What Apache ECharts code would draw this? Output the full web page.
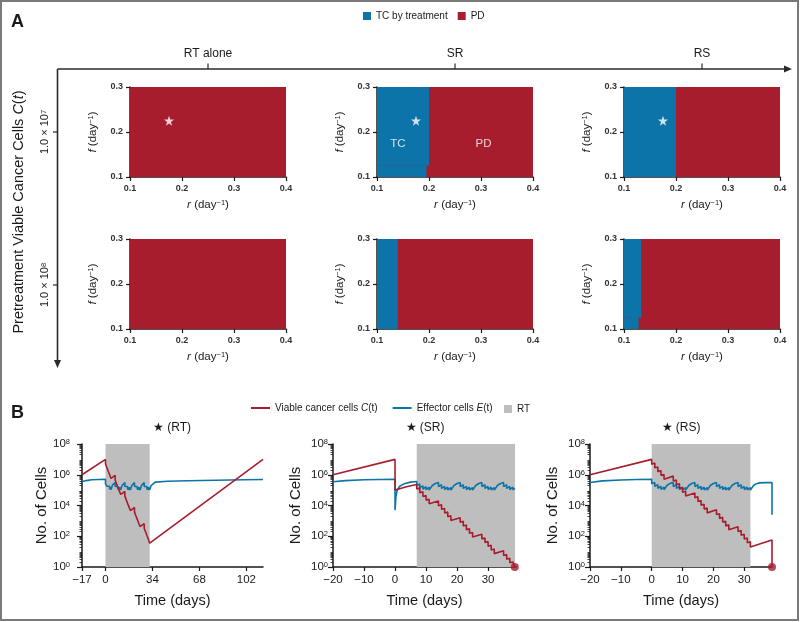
<!DOCTYPE html>
<html><head><meta charset="utf-8">
<script src="https://cdn.jsdelivr.net/npm/echarts@6/dist/echarts.min.js"></script>
<style>html,body{margin:0;padding:0;background:#fff}#c{width:800px;height:622px}</style>
</head><body><div id="c"></div>
<script>
// ---------------- DATA ----------------
// Panel A: phase diagrams (r on x, f on y)
const colTitles = ['RT alone', 'SR', 'RS'];
const rowExponents = ['7', '8'];             // pretreatment cells 1.0 × 10^n
const rTickValues = [0.1, 0.2, 0.3, 0.4];
const fTickValues = [0.1, 0.2, 0.3];
// regions: [rStart, rEnd, fStart, fEnd]
const pdRegion = [[0.1, 0.4, 0.1, 0.3]];
const tcRT_1e7 = [];
const tcSR_1e7 = [[0.1, 0.2, 0.125, 0.3], [0.1, 0.195, 0.1, 0.125]];
const tcRS_1e7 = [[0.1, 0.2, 0.1, 0.3]];
const tcRT_1e8 = [];
const tcSR_1e8 = [[0.1, 0.14, 0.1, 0.3]];
const tcRS_1e8 = [[0.1, 0.133, 0.125, 0.3], [0.1, 0.128, 0.1, 0.125]];
const starPoint = [[0.175, 0.225]];
const regionLabels = [[0.14, 0.173, 'TC'], [0.305, 0.173, 'PD']];

// Panel B: time courses, values are log10(number of cells)
const subTitles = ['★ (RT)', '★ (SR)', '★ (RS)'];
const yExpTicks = [0, 2, 4, 6, 8];
const xTicksRT = [-17, 0, 34, 68, 102];
const xTicksSR = [-20, -10, 0, 10, 20, 30];
const xTicksRS = [-20, -10, 0, 10, 20, 30];
const rtWindowRT = [[0, 32]];
const rtWindowSR = [[7, 38.7]];
const rtWindowRS = [[0, 32]];

const cancerRT = [[-17,6.0],[0,7.0],[0,6.7],[1,6.77],[1,6.47],[2,6.53],[2,6.23],[3,6.3],[3,6.0],[4,6.06],[4,5.76],[7,5.96],[7,5.66],[8,5.72],[8,5.42],[9,5.49],[9,5.19],[10,5.25],[10,4.95],[11,5.02],[11,4.72],[14,4.91],[14,4.61],[15,4.68],[15,4.38],[16,4.44],[16,4.14],[17,4.21],[17,3.91],[18,3.97],[18,3.67],[21,3.87],[21,3.57],[22,3.63],[22,3.33],[23,3.4],[23,3.1],[24,3.16],[24,2.86],[25,2.93],[25,2.63],[28,2.82],[28,2.52],[29,2.59],[29,2.29],[30,2.35],[30,2.05],[31,2.12],[31,1.82],[32,1.88],[32,1.55],[114,7.0]];
const effectorRT = [[-17,5.54],[-14,5.62],[-10,5.67],[-5,5.69],[0,5.7],[0,5.42],[1,5.5],[1,5.25],[2,5.36],[2,5.12],[3,5.25],[3,5.05],[4,5.2],[4,5.02],[5,5.32],[6,5.44],[7,5.49],[7,5.24],[8,5.35],[8,5.11],[9,5.24],[9,5.04],[10,5.19],[10,5.01],[11,5.17],[11,5.0],[12,5.3],[13,5.43],[14,5.49],[14,5.24],[15,5.35],[15,5.11],[16,5.24],[16,5.04],[17,5.19],[17,5.01],[18,5.17],[18,5.0],[19,5.3],[20,5.43],[21,5.49],[21,5.24],[22,5.35],[22,5.11],[23,5.24],[23,5.04],[24,5.19],[24,5.01],[25,5.17],[25,5.0],[26,5.3],[27,5.43],[28,5.49],[28,5.24],[29,5.35],[29,5.11],[30,5.24],[30,5.04],[31,5.19],[31,5.01],[32,5.17],[32,5.0],[33,5.3],[34,5.42],[36,5.52],[45,5.58],[60,5.61],[80,5.64],[100,5.67],[114,5.69]];

const cancerSR = [[-20,6.0],[0,7.0],[0,5.0],[2,5.12],[4,5.23],[7,5.37],[7,5.07],[8,5.13],[8,4.83],[9,4.89],[9,4.59],[10,4.65],[10,4.35],[11,4.41],[11,4.11],[14,4.29],[14,3.99],[15,4.05],[15,3.75],[16,3.81],[16,3.51],[17,3.57],[17,3.27],[18,3.33],[18,3.03],[21,3.21],[21,2.91],[22,2.97],[22,2.67],[23,2.73],[23,2.43],[24,2.49],[24,2.19],[25,2.25],[25,1.95],[28,2.13],[28,1.83],[29,1.89],[29,1.59],[30,1.65],[30,1.35],[31,1.41],[31,1.11],[32,1.17],[32,0.87],[35,1.05],[35,0.75],[36,0.81],[36,0.51],[37,0.57],[37,0.27],[38,0.33],[38.6,0.0]];
const effectorSR = [[-20,5.54],[-16,5.62],[-10,5.67],[-5,5.69],[0,5.7],[0,3.7],[0.3,4.6],[0.7,5.0],[1.5,5.25],[3,5.42],[5,5.52],[7,5.56],[7,5.3],[8,5.4],[8,5.16],[9,5.28],[9,5.06],[10,5.22],[10,5.03],[11,5.19],[11,5.0],[12,5.3],[13,5.43],[14,5.49],[14,5.24],[15,5.35],[15,5.11],[16,5.24],[16,5.04],[17,5.19],[17,5.01],[18,5.17],[18,5.0],[19,5.3],[20,5.43],[21,5.49],[21,5.24],[22,5.35],[22,5.11],[23,5.24],[23,5.04],[24,5.19],[24,5.01],[25,5.17],[25,5.0],[26,5.3],[27,5.43],[28,5.49],[28,5.24],[29,5.35],[29,5.11],[30,5.24],[30,5.04],[31,5.19],[31,5.01],[32,5.17],[32,5.0],[33,5.3],[34,5.43],[35,5.49],[35,5.24],[36,5.35],[36,5.11],[37,5.24],[37,5.04],[38,5.19],[38,5.01],[38.6,5.12]];
const endDotSR = [[38.6, 0]];

const cancerRS = [[-20,6.0],[0,7.0],[0,6.69],[1,6.76],[1,6.45],[2,6.51],[2,6.2],[3,6.27],[3,5.96],[4,6.02],[4,5.71],[7,5.91],[7,5.6],[8,5.66],[8,5.35],[9,5.42],[9,5.11],[10,5.17],[10,4.86],[11,4.93],[11,4.62],[14,4.81],[14,4.5],[15,4.57],[15,4.26],[16,4.32],[16,4.01],[17,4.08],[17,3.77],[18,3.83],[18,3.52],[21,3.72],[21,3.41],[22,3.47],[22,3.16],[23,3.23],[23,2.92],[24,2.98],[24,2.67],[25,2.74],[25,2.43],[28,2.62],[28,2.31],[29,2.38],[29,2.07],[30,2.13],[30,1.82],[31,1.89],[31,1.58],[32,1.64],[32,1.3],[39,1.75],[39,0.0]];
const effectorRS = [[-20,5.5],[-16,5.6],[-10,5.66],[-5,5.69],[0,5.7],[0,5.42],[1,5.5],[1,5.25],[2,5.36],[2,5.12],[3,5.25],[3,5.05],[4,5.2],[4,5.02],[5,5.32],[6,5.44],[7,5.49],[7,5.24],[8,5.35],[8,5.11],[9,5.24],[9,5.04],[10,5.19],[10,5.01],[11,5.17],[11,5.0],[12,5.3],[13,5.43],[14,5.49],[14,5.24],[15,5.35],[15,5.11],[16,5.24],[16,5.04],[17,5.19],[17,5.01],[18,5.17],[18,5.0],[19,5.3],[20,5.43],[21,5.49],[21,5.24],[22,5.35],[22,5.11],[23,5.24],[23,5.04],[24,5.19],[24,5.01],[25,5.17],[25,5.0],[26,5.3],[27,5.43],[28,5.49],[28,5.24],[29,5.35],[29,5.11],[30,5.24],[30,5.04],[31,5.19],[31,5.01],[32,5.17],[32,5.0],[33,5.3],[34,5.42],[35,5.47],[37,5.49],[39,5.5],[39,3.4]];
const endDotRS = [[39, 0]];

// ---------------- STYLE / LAYOUT ----------------
const FONT = "'Liberation Sans', Arial, Helvetica, sans-serif";
const RED = '#a71d2e', BLUE = '#0d74aa', GRAY = '#bebebe', INK = '#1a1a1a';
const NAME_C = 'Viable cancer cells C(t)', NAME_E = 'Effector cells E(t)', NAME_RT = 'RT';
const NAME_TC = 'TC by treatment', NAME_PD = 'PD';

const chart = echarts.init(document.getElementById('c'));

const gridsA = [];
const colLeft = [130, 377, 624], rowTop = [87, 239];
rowTop.forEach(t => colLeft.forEach(l => gridsA.push({left: l, top: t, width: 156, height: 90})));
const gridsB = [
  {left: 82, top: 444, width: 181, height: 123},
  {left: 333, top: 444, width: 183, height: 123},
  {left: 590, top: 444, width: 182, height: 123}
];
const grids = gridsA.concat(gridsB);

const supRich = {
  i: {fontStyle: 'italic', fontSize: 11.5, fontFamily: FONT, color: INK},
  s: {fontSize: 7.5, fontFamily: FONT, color: INK, verticalAlign: 'top', lineHeight: 8}
};

const xAxes = [], yAxes = [];
for (let g = 0; g < 6; g++) {
  xAxes.push({
    type: 'value', gridIndex: g, min: 0.1, max: 0.4, interval: 0.1,
    axisLine: {show: true, onZero: false, lineStyle: {color: INK, width: 1.5}},
    axisTick: {show: true, length: 4, lineStyle: {color: INK, width: 1.2}},
    axisLabel: {fontSize: 9, fontWeight: 'bold', color: '#333', margin: 7, fontFamily: FONT,
      customValues: rTickValues, formatter: v => v.toFixed(1)},
    splitLine: {show: false},
    name: '{i|r} (day{s|−1})', nameLocation: 'middle', nameGap: 22,
    nameTextStyle: {fontSize: 11.5, color: INK, fontFamily: FONT, rich: supRich}
  });
  yAxes.push({
    type: 'value', gridIndex: g, min: 0.1, max: 0.3, interval: 0.1,
    axisLine: {show: true, onZero: false, lineStyle: {color: INK, width: 1.5}},
    axisTick: {show: true, length: 4, lineStyle: {color: INK, width: 1.2}},
    axisLabel: {fontSize: 9, fontWeight: 'bold', color: '#333', margin: 7, fontFamily: FONT,
      customValues: fTickValues, formatter: v => v.toFixed(1)},
    splitLine: {show: false},
    name: '{i|f} (day{s|−1})', nameLocation: 'middle', nameGap: 31,
    nameTextStyle: {fontSize: 11.5, color: INK, fontFamily: FONT, rich: supRich}
  });
}
const xTicksB = [xTicksRT, xTicksSR, xTicksRS];
const xRangeB = [[-17, 114], [-20, 39], [-20, 39]];
const yLabelMargin = [12, 5, 5];
const minorLog = [];
for (let d = 0; d < 8; d++) for (let k = 2; k < 10; k++) minorLog.push(d + Math.log10(k));
const expRich = {
  b: {fontSize: 11.5, fontFamily: FONT, color: INK},
  s: {fontSize: 7.5, fontFamily: FONT, color: INK, verticalAlign: 'top', lineHeight: 8}
};
for (let k = 0; k < 3; k++) {
  const g = 6 + k;
  xAxes.push({
    type: 'value', gridIndex: g, min: xRangeB[k][0], max: xRangeB[k][1],
    axisLine: {show: true, onZero: false, lineStyle: {color: INK, width: 1.5}},
    axisTick: {show: true, length: 4, customValues: xTicksB[k], lineStyle: {color: INK, width: 1.2}},
    axisLabel: {fontSize: 11.5, color: INK, margin: 7, fontFamily: FONT, customValues: xTicksB[k],
      formatter: v => String(v).replace('-', '−')},
    splitLine: {show: false},
    name: 'Time (days)', nameLocation: 'middle', nameGap: 26,
    nameTextStyle: {fontSize: 14.5, color: INK, fontFamily: FONT}
  });
  yAxes.push({
    type: 'value', gridIndex: g, min: 0, max: 8, interval: 2,
    axisLine: {show: true, onZero: false, lineStyle: {color: INK, width: 1.5}},
    axisTick: {show: true, length: 5, customValues: yExpTicks, lineStyle: {color: INK, width: 1.2}},
    axisLabel: {color: INK, margin: yLabelMargin[k], customValues: yExpTicks,
      formatter: v => '{b|10}{s|' + v + '}', rich: expRich},
    splitLine: {show: false},
    name: 'No. of Cells', nameLocation: 'middle', nameGap: 30,
    nameTextStyle: {fontSize: 15, color: INK, fontFamily: FONT}
  });
}
for (let k = 0; k < 3; k++) {
  yAxes.push({
    type: 'value', gridIndex: 6 + k, min: 0, max: 8, position: 'left',
    axisLine: {show: false, onZero: false}, axisLabel: {show: false}, splitLine: {show: false},
    axisTick: {show: true, length: 2.5, customValues: minorLog, lineStyle: {color: INK, width: 0.8}}
  });
}

function rectRender(color) {
  return function (params, api) {
    const p0 = api.coord([api.value(0), api.value(3)]);
    const p1 = api.coord([api.value(1), api.value(2)]);
    return {type: 'rect', shape: {x: p0[0], y: p0[1], width: p1[0] - p0[0], height: p1[1] - p0[1]},
      style: {fill: color}};
  };
}
function bandRender(color) {
  return function (params, api) {
    const p0 = api.coord([api.value(0), 8]);
    const p1 = api.coord([api.value(1), 0]);
    return {type: 'rect', shape: {x: p0[0], y: p0[1], width: p1[0] - p0[0], height: p1[1] - p0[1]},
      style: {fill: color}};
  };
}
const STAR = 'path://M50,0 L61.8,35.5 L99,35.5 L69,57.5 L80.5,93 L50,71 L19.5,93 L31,57.5 L1,35.5 L38.2,35.5 Z';

const series = [];
const tcSets = [tcRT_1e7, tcSR_1e7, tcRS_1e7, tcRT_1e8, tcSR_1e8, tcRS_1e8];
for (let g = 0; g < 6; g++) {
  series.push({type: 'custom', name: NAME_PD, xAxisIndex: g, yAxisIndex: g, z: 2,
    itemStyle: {color: RED}, renderItem: rectRender(RED), data: pdRegion, encode: {x: [0, 1], y: [2, 3]}, silent: true});
  series.push({type: 'custom', name: NAME_TC, xAxisIndex: g, yAxisIndex: g, z: 3,
    itemStyle: {color: BLUE}, renderItem: rectRender(BLUE), data: tcSets[g], encode: {x: [0, 1], y: [2, 3]}, silent: true});
  if (g < 3) {
    series.push({type: 'scatter', name: 'star', xAxisIndex: g, yAxisIndex: g, z: 5, symbol: STAR,
      symbolSize: 10, itemStyle: {color: '#ffffff'}, data: starPoint, silent: true});
  }
}
series.push({type: 'scatter', name: 'labels', xAxisIndex: 1, yAxisIndex: 1, z: 6, symbolSize: 0,
  data: regionLabels, silent: true,
  label: {show: true, position: 'inside', color: '#ffffff', fontSize: 11.5, fontFamily: FONT,
    formatter: p => p.data[2]}});

const cancerB = [cancerRT, cancerSR, cancerRS];
const effB = [effectorRT, effectorSR, effectorRS];
const winB = [rtWindowRT, rtWindowSR, rtWindowRS];
const dotB = [[], endDotSR, endDotRS];
for (let k = 0; k < 3; k++) {
  const g = 6 + k;
  series.push({type: 'custom', name: NAME_RT, xAxisIndex: g, yAxisIndex: g, z: 1,
    itemStyle: {color: GRAY}, renderItem: bandRender(GRAY), data: winB[k], encode: {x: [0, 1]}, silent: true});
  series.push({type: 'line', name: NAME_E, xAxisIndex: g, yAxisIndex: g, z: 3, data: effB[k],
    showSymbol: false, clip: false, lineStyle: {color: BLUE, width: 1.6}, itemStyle: {color: BLUE}, silent: true});
  series.push({type: 'line', name: NAME_C, xAxisIndex: g, yAxisIndex: g, z: 4, data: cancerB[k],
    showSymbol: false, clip: false, lineStyle: {color: RED, width: 1.6}, itemStyle: {color: RED}, silent: true});
  if (dotB[k].length) {
    series.push({type: 'scatter', name: 'end', xAxisIndex: g, yAxisIndex: g, z: 6, data: dotB[k],
      symbolSize: 8, clip: false, itemStyle: {color: RED}, silent: true});
  }
}

const legendText = {fontSize: 10, color: INK, fontFamily: FONT,
  rich: {i: {fontStyle: 'italic', fontSize: 10, fontFamily: FONT, color: INK}}};
const legends = [
  {data: [NAME_TC, NAME_PD], left: 363, top: 11, itemWidth: 8, itemHeight: 8, itemGap: 10, padding: 0,
    icon: 'rect', textStyle: legendText, selectedMode: false},
  {data: [NAME_C, NAME_E], left: 251, top: 403, itemWidth: 19, itemHeight: 2, itemGap: 15, padding: 0,
    icon: 'rect', textStyle: legendText, selectedMode: false,
    formatter: n => n === NAME_C ? 'Viable cancer cells {i|C}(t)' : 'Effector cells {i|E}(t)'},
  {data: [NAME_RT], left: 504, top: 404, itemWidth: 8, itemHeight: 8, padding: 0,
    icon: 'rect', textStyle: legendText, selectedMode: false}
];

const AX = '#2a2a2a';
const graphic = [
  {type: 'rect', shape: {x: 1, y: 1, width: 797, height: 619}, style: {fill: 'none', stroke: '#7a7a7a', lineWidth: 2}, silent: true},
  {type: 'text', x: 11, y: 22, style: {text: 'A', font: "bold 18px 'Liberation Sans', Arial", fill: INK, verticalAlign: 'middle'}},
  {type: 'text', x: 11, y: 413, style: {text: 'B', font: "bold 18px 'Liberation Sans', Arial", fill: INK, verticalAlign: 'middle'}},
  // horizontal treatment axis
  {type: 'line', shape: {x1: 57.5, y1: 69, x2: 786, y2: 69}, style: {stroke: AX, lineWidth: 1.6}},
  {type: 'polygon', shape: {points: [[792, 69], [784, 65.5], [784, 72.5]]}, style: {fill: AX}},
  // vertical cell-count axis
  {type: 'line', shape: {x1: 57.5, y1: 69, x2: 57.5, y2: 361}, style: {stroke: AX, lineWidth: 1.6}},
  {type: 'polygon', shape: {points: [[57.5, 368], [54, 360], [61, 360]]}, style: {fill: AX}},
  {type: 'text', x: 19, y: 212, rotation: Math.PI / 2,
    style: {text: 'Pretreatment Viable Cancer Cells {i|C}({i|t})', fontSize: 14.5, fontFamily: FONT, fill: INK,
      align: 'center', verticalAlign: 'middle',
      rich: {i: {fontStyle: 'italic', fontSize: 14.5, fontFamily: FONT, fill: INK}}}}
];
const colX = [208, 455, 702];
colTitles.forEach((t, i) => {
  graphic.push({type: 'line', shape: {x1: colX[i], y1: 63.5, x2: colX[i], y2: 69}, style: {stroke: AX, lineWidth: 1.2}});
  graphic.push({type: 'text', x: colX[i], y: 54, style: {text: t, fontSize: 12, fontFamily: FONT, fill: INK, align: 'center', verticalAlign: 'middle'}});
});
const rowY = [132, 285];
rowExponents.forEach((e, i) => {
  graphic.push({type: 'line', shape: {x1: 53, y1: rowY[i], x2: 57.5, y2: rowY[i]}, style: {stroke: AX, lineWidth: 1.2}});
  graphic.push({type: 'text', x: 45, y: rowY[i], rotation: Math.PI / 2,
    style: {text: '1.0 × 10{s|' + e + '}', fontSize: 11, fontFamily: FONT, fill: INK, align: 'center', verticalAlign: 'middle',
      rich: {s: {fontSize: 7.5, fontFamily: FONT, fill: INK, verticalAlign: 'top', lineHeight: 8}}}});
});
const subX = [172, 425, 681];
subTitles.forEach((t, i) => {
  graphic.push({type: 'text', x: subX[i], y: 428, style: {text: t, fontSize: 12, fontFamily: FONT, fill: INK, align: 'center', verticalAlign: 'middle'}});
});

chart.setOption({
  animation: false,
  backgroundColor: '#ffffff',
  textStyle: {fontFamily: FONT},
  grid: grids,
  xAxis: xAxes,
  yAxis: yAxes,
  legend: legends,
  series: series,
  graphic: graphic
});
</script>
</body></html>
